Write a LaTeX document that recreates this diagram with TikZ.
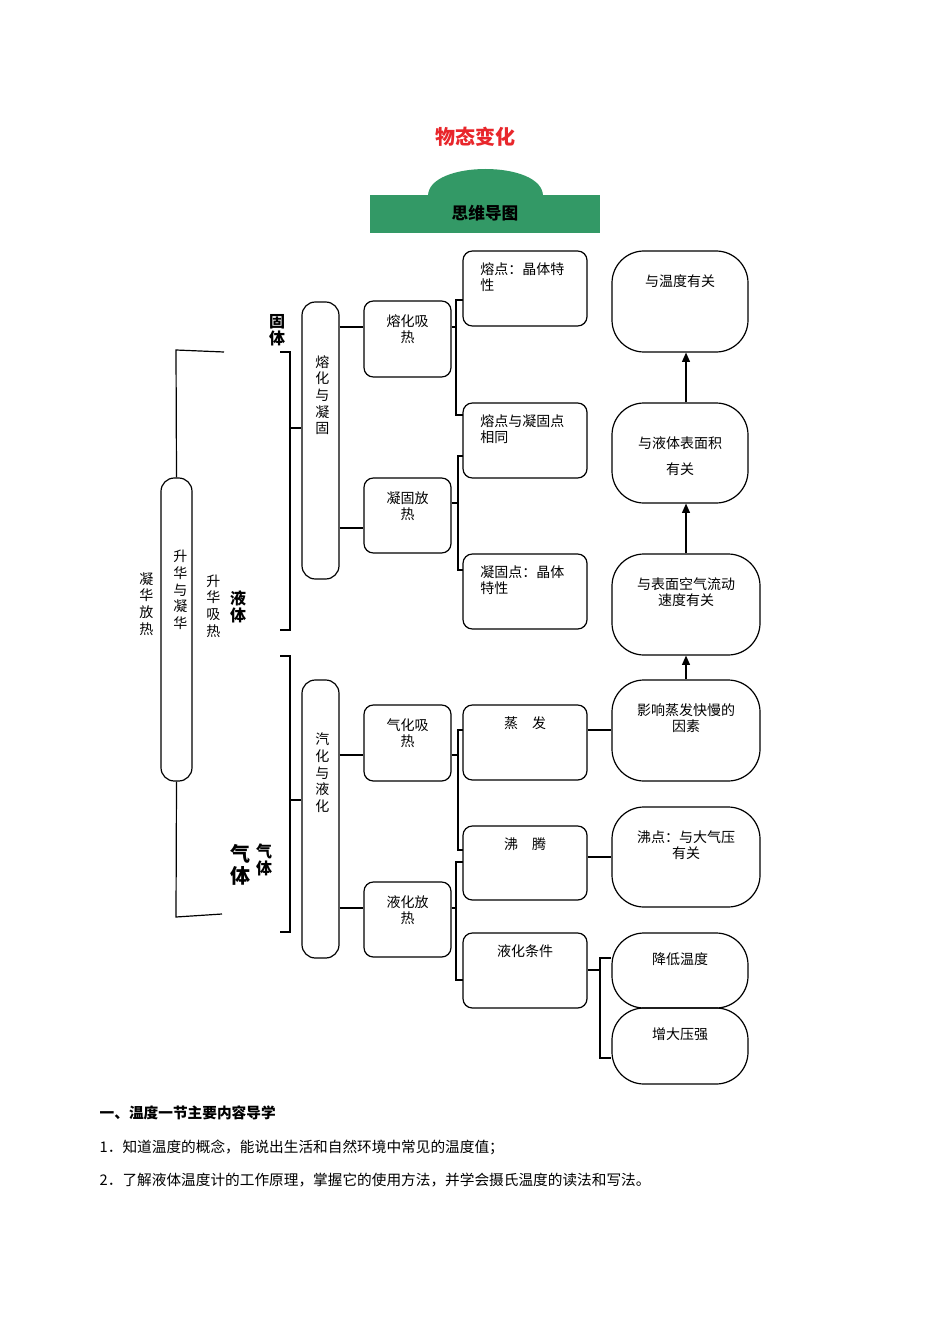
\documentclass[tikz,border=0pt]{standalone}
\usepackage{fontspec}
\setmainfont{Noto Sans CJK SC}
\usetikzlibrary{fit,arrows.meta}
\definecolor{bannergreen}{HTML}{339966}
\definecolor{titlered}{HTML}{E8262B}
\begin{document}
\begin{tikzpicture}[x=0.75pt,y=-0.75pt,
  ln/.style={line width=0.9pt},
  rb/.style={draw,line width=0.9pt,rounded corners=7pt,inner sep=0pt},
  tall/.style={draw,line width=0.9pt,rounded corners=10pt,inner sep=0pt},
  ov/.style={draw,line width=0.9pt,rounded corners=24pt,inner sep=0pt},
  lab/.style={font=\fontsize{10.5pt}{12pt}\selectfont,align=center},
  llab/.style={font=\fontsize{10.5pt}{12pt}\selectfont,align=left},
  vt/.style={font=\fontsize{10.5pt}{12.5pt}\selectfont,align=center,text width=1em,inner sep=0pt},
  bt/.style={font=\bfseries\fontsize{12pt}{13pt}\selectfont,align=center,inner sep=0pt},
  arr/.style={line width=0.9pt,-{Triangle[length=7pt,width=6pt]}}]
\useasboundingbox (0,0) rectangle (950,1344);
% title
\node[font=\bfseries\fontsize{15pt}{18pt}\selectfont,text=titlered] (title) at (475,137) {物态变化};
\fill[bannergreen] (428,196) .. controls (428,160) and (543,160) .. (543,196) -- cycle;
\fill[bannergreen] (370,195) rectangle (600,233);
\node[font=\bfseries\fontsize{12.5pt}{14pt}\selectfont] (banner) at (485,213) {思维导图};
% left column
\node[tall,fit={(161,478)(192,781)}] (shj) {};
\node[vt] at (180,590) {升\\华\\与\\凝\\华};
\node[vt] at (146,604) {凝\\华\\放\\热};
\node[vt] at (213,606) {升\\华\\吸\\热};
\coordinate (lt) at (224,352); \coordinate (lb) at (222,914);
\draw[ln] (lt) -- (176,350) -- (shj.north);
\draw[ln] (shj.south) -- (176,917) -- (lb);
\node[bt] (gu) at (277,330) {固\\体};
\node[bt] (ye) at (238,607) {液\\体};
\node[font=\bfseries\fontsize{15pt}{16pt}\selectfont,align=center,inner sep=0pt] (qi1) at (240,865) {气\\体};
\node[bt] (qi2) at (264,860) {气\\体};
% big boxes
\node[tall,fit={(302,302)(339,579)}] (rn) {};
\node[vt] at (322,395) {熔\\化\\与\\凝\\固};
\node[tall,fit={(302,680)(339,958)}] (qy) {};
\node[vt] at (322,773) {汽\\化\\与\\液\\化};
\draw[ln] (280,352) -- (290,352) -- (290,630) -- (280,630);
\draw[ln] (290,428) -- (rn.west |- 0,428);
\draw[ln] (280,656) -- (290,656) -- (290,932) -- (280,932);
\draw[ln] (290,800) -- (qy.west |- 0,800);
% second column
\node[rb,fit={(364,301)(451,377)},label={[lab,anchor=north,yshift=-7pt]north:熔化吸\\热}] (rh) {};
\node[rb,fit={(364,478)(451,553)},label={[lab,anchor=north,yshift=-7pt]north:凝固放\\热}] (ng) {};
\node[rb,fit={(364,705)(451,781)},label={[lab,anchor=north,yshift=-7pt]north:气化吸\\热}] (qh) {};
\node[rb,fit={(364,882)(451,957)},label={[lab,anchor=north,yshift=-7pt]north:液化放\\热}] (yh) {};
\draw[ln] (rn.east |- 0,327) -- (rh.west |- 0,327);
\draw[ln] (rn.east |- 0,528) -- (ng.west |- 0,528);
\draw[ln] (qy.east |- 0,755) -- (qh.west |- 0,755);
\draw[ln] (qy.east |- 0,908) -- (yh.west |- 0,908);
% third column
\node[rb,fit={(463,251)(587,326)},label={[llab,anchor=north west,xshift=10pt,yshift=-6pt]north west:熔点：晶体特\\性}] (c1) {};
\node[rb,fit={(463,403)(587,478)},label={[llab,anchor=north west,xshift=10pt,yshift=-6pt]north west:熔点与凝固点\\相同}] (c2) {};
\node[rb,fit={(463,554)(587,629)},label={[llab,anchor=north west,xshift=10pt,yshift=-6pt]north west:凝固点：晶体\\特性}] (c3) {};
\node[rb,fit={(463,705)(587,780)},label={[lab,anchor=north,yshift=-6pt]north:蒸\quad 发}] (c4) {};
\node[rb,fit={(463,826)(587,900)},label={[lab,anchor=north,yshift=-6pt]north:沸\quad 腾}] (c5) {};
\node[rb,fit={(463,933)(587,1008)},label={[lab,anchor=north,yshift=-6pt]north:液化条件}] (c6) {};
\draw[ln] (rh.east |- 0,327) -- (456,327);
\draw[ln] (463,300) -- (456,300) -- (456,415) -- (463,415);
\draw[ln] (ng.east |- 0,503) -- (458,503);
\draw[ln] (463,456) -- (458,456) -- (458,570) -- (463,570);
\draw[ln] (qh.east |- 0,755) -- (458,755);
\draw[ln] (463,730) -- (458,730) -- (458,850) -- (463,850);
\draw[ln] (yh.east |- 0,908) -- (456,908);
\draw[ln] (463,862) -- (456,862) -- (456,980) -- (463,980);
% fourth column
\node[ov,fit={(612,251)(748,352)},label={[lab,anchor=north,yshift=-15pt]north:与温度有关}] (d1) {};
\node[ov,fit={(612,403)(748,503)},label={[lab,font=\fontsize{10.5pt}{20pt}\selectfont,anchor=north,yshift=-22pt]north:与液体表面积\\有关}] (d2) {};
\node[ov,fit={(612,554)(760,655)},label={[lab,anchor=north,yshift=-15pt]north:与表面空气流动\\速度有关}] (d3) {};
\node[ov,fit={(612,680)(760,781)},label={[lab,anchor=north,yshift=-15pt]north:影响蒸发快慢的\\因素}] (d4) {};
\node[ov,fit={(612,807)(760,907)},label={[lab,anchor=north,yshift=-15pt]north:沸点：与大气压\\有关}] (d5) {};
\node[ov,fit={(612,933)(748,1008)},label={[lab,anchor=north,yshift=-12pt]north:降低温度}] (d6) {};
\node[ov,fit={(612,1008)(748,1084)},label={[lab,anchor=north,yshift=-12pt]north:增大压强}] (d7) {};
\draw[arr] (d4.north -| 686,0) -- (d3.south -| 686,0);
\draw[arr] (d3.north -| 686,0) -- (d2.south -| 686,0);
\draw[arr] (d2.north -| 686,0) -- (d1.south -| 686,0);
\draw[ln] (c4.east |- 0,730) -- (d4.west |- 0,730);
\draw[ln] (c5.east |- 0,857) -- (d5.west |- 0,857);
\draw[ln] (c6.east |- 0,970) -- (600,970);
\draw[ln] (d6.west |- 0,958) -- (600,958) -- (600,1058) -- (d7.west |- 0,1058);
% bottom text
\node[anchor=west,font=\bfseries\fontsize{11pt}{13pt}\selectfont] (t0) at (95,1113) {一、温度一节主要内容导学};
\node[anchor=west,font=\fontsize{11pt}{13pt}\selectfont] (t1) at (95,1147) {1．知道温度的概念，能说出生活和自然环境中常见的温度值；};
\node[anchor=west,font=\fontsize{11pt}{13pt}\selectfont] (t2) at (95,1180) {2．了解液体温度计的工作原理，掌握它的使用方法，并学会摄氏温度的读法和写法。};
\end{tikzpicture}
\end{document}
